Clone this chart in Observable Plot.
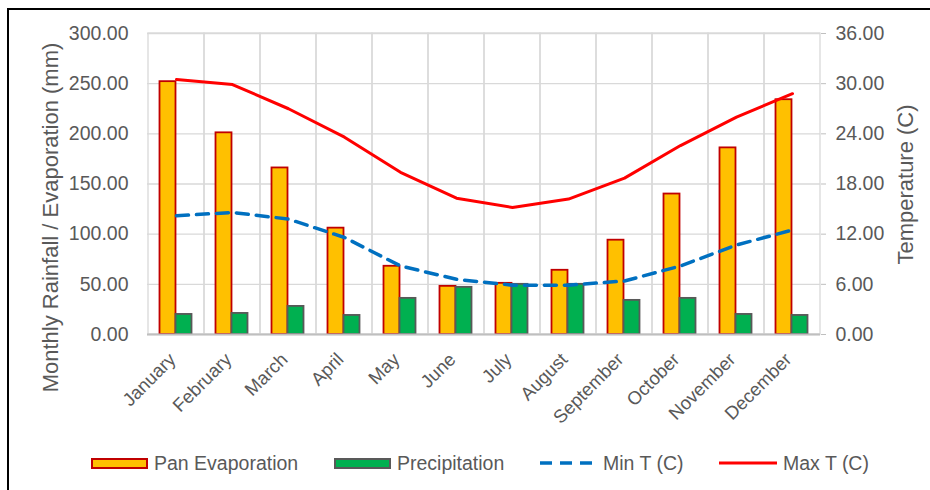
<!DOCTYPE html>
<html><head><meta charset="utf-8">
<script src="https://cdn.jsdelivr.net/npm/d3@7"></script>
<script src="https://cdn.jsdelivr.net/npm/@observablehq/plot@0.6"></script>
<style>
body{margin:0;overflow:hidden;background:#fff;font-family:"Liberation Sans",Arial,sans-serif;}
#wrap{position:relative;width:930px;height:490px;overflow:hidden;background:#fff}
#frame{position:absolute;left:7px;top:8px;width:960px;height:520px;border:2px solid #000;box-sizing:border-box;pointer-events:none}
#chart svg{display:block}
#legend{position:relative;height:50px;color:#595959;font-size:19.5px}
.sw{position:absolute;box-sizing:border-box}
.lt{position:absolute;top:11px;line-height:24px;white-space:nowrap}
</style></head>
<body>
<div id="wrap">
  <div id="chart"></div>
  <div id="legend"></div>
  <div id="frame"></div>
</div>
<script>
const months = ["January","February","March","April","May","June","July","August","September","October","November","December"];
const panEvaporation = [252, 201, 166, 106, 68, 48, 51, 64, 94, 140, 186, 234];
const precipitation = [20, 21, 28, 19, 36, 47, 50, 50, 34, 36, 20, 19];
const minT = [14.2, 14.6, 13.8, 11.6, 8.2, 6.6, 5.9, 5.9, 6.4, 8.2, 10.7, 12.5];
const maxT = [30.5, 29.9, 27.0, 23.6, 19.4, 16.3, 15.2, 16.2, 18.7, 22.6, 26.0, 28.8];
const leftTicks = [0, 50, 100, 150, 200, 250, 300];
const rightTicks = [0, 6, 12, 18, 24, 30, 36];
const leftMax = 300, rightMax = 36;
const toMM = t => t * leftMax / rightMax;

const data = months.map((m, i) => ({
  month: m, evap: panEvaporation[i], precip: precipitation[i],
  minT: toMM(minT[i]), maxT: toMM(maxT[i])
}));

const grey = "#595959";
const chart = Plot.plot({
  width: 930, height: 440,
  marginLeft: 147, marginRight: 110, marginTop: 33, marginBottom: 106,
  style: {fontFamily: "Liberation Sans, Arial, sans-serif", color: grey, background: "transparent", overflow: "visible"},
  x: {domain: months, padding: 0, label: null},
  y: {domain: [0, leftMax], label: null},
  marks: [
    Plot.gridY(leftTicks, {stroke: "#D9D9D9", strokeOpacity: 1, strokeWidth: 1.3}),
    Plot.barY(months, {x: d => d, y1: 0, y2: leftMax, fill: "none", stroke: "#D9D9D9", strokeWidth: 1.3}),
    Plot.barY(data, {x: "month", y: "evap", fill: "#FFC000", stroke: "#C00000", strokeWidth: 1.8, insetLeft: 11.5, insetRight: 28.5}),
    Plot.barY(data, {x: "month", y: "precip", fill: "#00B050", stroke: grey, strokeWidth: 1.8, insetLeft: 27.5, insetRight: 12.5}),
    Plot.ruleY([0], {stroke: "#BFBFBF", strokeWidth: 2}),
    Plot.line(data, {x: "month", y: "minT", stroke: "#0070C0", strokeWidth: 3.5, strokeDasharray: "12,8"}),
    Plot.line(data, {x: "month", y: "maxT", stroke: "#FF0000", strokeWidth: 3}),
    Plot.axisY({anchor: "left", ticks: leftTicks, tickFormat: d => d.toFixed(2), tickSize: 0, tickPadding: 19, fontSize: 19.5, label: null}),
    Plot.axisY({anchor: "right", ticks: rightTicks.map(toMM), tickFormat: d => (d * rightMax / leftMax).toFixed(2), tickSize: 5, tickPadding: 10, stroke: "#BFBFBF", fill: grey, fontSize: 19.5, label: null}),
    Plot.axisX({tickRotate: -45, tickSize: 0, tickPadding: 22, dx: -4, fontSize: 18.5, label: null}),
    Plot.text(["Monthly Rainfall / Evaporation (mm)"], {text: d => d, frameAnchor: "left", textAnchor: "middle", dx: -97, dy: 33.5, rotate: -90, fontSize: 22, fill: grey}),
    Plot.text(["Temperature (C)"], {text: d => d, frameAnchor: "right", textAnchor: "middle", dx: 85, dy: 0.5, rotate: -90, fontSize: 22, fill: grey})
  ]
});
document.getElementById("chart").appendChild(chart);

const legendItems = [
  {label: "Pan Evaporation", kind: "bar", fill: "#FFC000", stroke: "#C00000", x: 91, tx: 154},
  {label: "Precipitation", kind: "bar", fill: "#00B050", stroke: grey, x: 334, tx: 397},
  {label: "Min T (C)", kind: "line", stroke: "#0070C0", dash: "12,8", x: 540, tx: 603},
  {label: "Max T (C)", kind: "line", stroke: "#FF0000", dash: null, x: 719, tx: 783}
];
const legend = document.getElementById("legend");
for (const it of legendItems) {
  if (it.kind === "bar") {
    const s = document.createElement("div");
    s.className = "sw";
    Object.assign(s.style, {left: it.x + "px", top: "18px", width: "57px", height: "11px", background: it.fill, border: "2px solid " + it.stroke});
    legend.appendChild(s);
  } else {
    const svg = d3.create("svg").attr("width", 58).attr("height", 10)
      .style("position", "absolute").style("left", it.x + "px").style("top", "18px");
    svg.append("line").attr("x1", 0).attr("x2", 58).attr("y1", 5).attr("y2", 5)
      .attr("stroke", it.stroke).attr("stroke-width", it.dash ? 3.5 : 3)
      .attr("stroke-dasharray", it.dash);
    legend.appendChild(svg.node());
  }
  const t = document.createElement("div");
  t.className = "lt";
  t.style.left = it.tx + "px";
  t.textContent = it.label;
  legend.appendChild(t);
}
</script>
</body></html>
